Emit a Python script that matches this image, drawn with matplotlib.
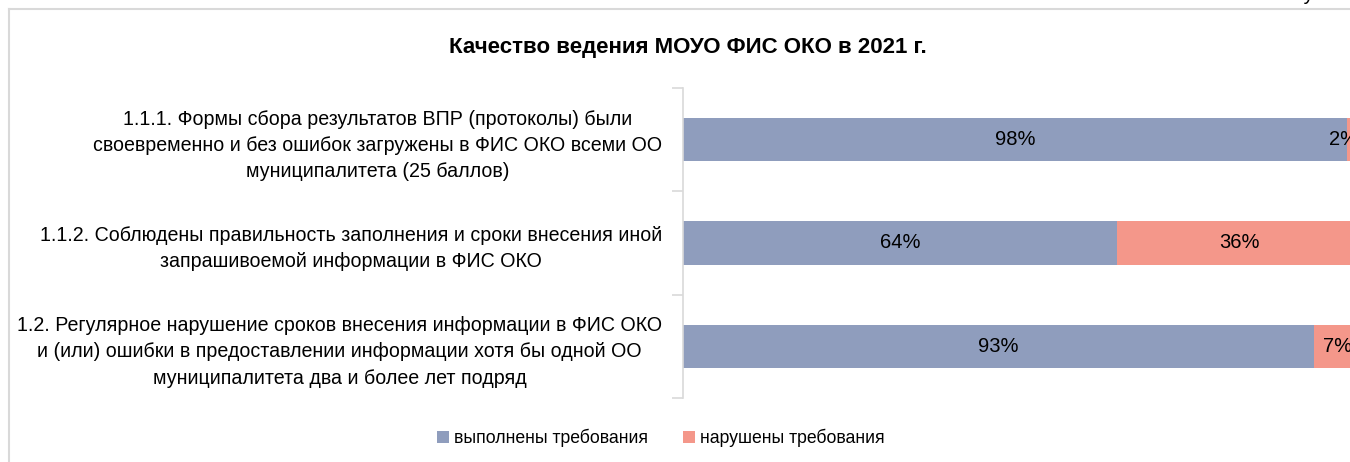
import matplotlib.pyplot as plt
from matplotlib.lines import Line2D

categories = [
    "1.1.1. Формы сбора результатов ВПР (протоколы) были\nсвоевременно и без ошибок загружены в ФИС ОКО всеми ОО\nмуниципалитета (25 баллов)",
    "1.1.2. Соблюдены правильность заполнения и сроки внесения иной\nзапрашивоемой информации в ФИС ОКО",
    "1.2. Регулярное нарушение сроков внесения информации в ФИС ОКО\nи (или) ошибки в предоставлении информации хотя бы одной ОО\nмуниципалитета два и более лет подряд",
]
done = [0.98, 0.64, 0.93]
failed = [0.02, 0.36, 0.07]
series_names = ["выполнены требования", "нарушены требования"]
colors = ["#8f9dbd", "#f4978a"]

plt.rcParams['font.family'] = ['Liberation Sans', 'DejaVu Sans']

W, H = 1350, 462
fig = plt.figure(figsize=(W / 100, H / 100), dpi=100)

# axes: x from 683 px to ~1361 px (runs past the right edge), y from 88 to 398 px
ax = fig.add_axes([683 / W, 1 - 398 / H, (1361 - 683) / W, (398 - 88) / H])

pos = list(range(len(categories)))
b1 = ax.barh(pos, done, height=0.42, color=colors[0], label=series_names[0])
b2 = ax.barh(pos, failed, left=done, height=0.42, color=colors[1], label=series_names[1])
ax.bar_label(b1, labels=[f"{v:.0%}" for v in done], label_type='center',
             fontsize=14.5, color='black')
small = ax.bar_label(b2, labels=[f"{v:.0%}" for v in failed], label_type='center',
                     fontsize=14.5, color='black')
small[0].xyann = (-8, 0)  # nudge the thin 2% label like the original

ax.set_xlim(0, 1)
ax.set_ylim(len(categories) - 0.5, -0.5)
ax.set_yticks([p - 0.5 for p in pos] + [len(categories) - 0.5])
ax.set_yticklabels([])
ax.set_yticks(pos, minor=True)
ax.set_yticklabels(categories, minor=True, fontsize=14.1, ha='right',
                   multialignment='center', linespacing=1.48)
ax.tick_params(axis='y', which='major', length=8, color='#d9d9d9', width=1.2)
ax.tick_params(axis='y', which='minor', length=0, pad=15)
ax.set_xticks([])
for s in ['top', 'right', 'bottom']:
    ax.spines[s].set_visible(False)
ax.spines['left'].set_color('#d9d9d9')
ax.spines['left'].set_linewidth(1.2)

fig.text(688 / W, 1 - 48 / H, "Качество ведения МОУО ФИС ОКО в 2021 г.",
         ha='center', va='center', fontsize=16, fontweight='bold')
fig.text(1362 / W, 1 + 6 / H, "Рисунок 5", ha='right', va='center', fontsize=14.5)

fig.legend(handles=[b1, b2], labels=series_names, loc='center',
           bbox_to_anchor=(661 / W, 1 - 438 / H), ncol=2, frameon=False,
           fontsize=12.7, handlelength=0.65, handleheight=0.75, handletextpad=0.3,
           columnspacing=2.0)

# chart frame (cropped)
fig.add_artist(Line2D([9 / W, 9 / W], [0, 1 - 9 / H], color='#d9d9d9', lw=1.5))
fig.add_artist(Line2D([9 / W, 1], [1 - 9 / H, 1 - 9 / H], color='#d9d9d9', lw=1.5))

fig.savefig('out.png', dpi=100)
